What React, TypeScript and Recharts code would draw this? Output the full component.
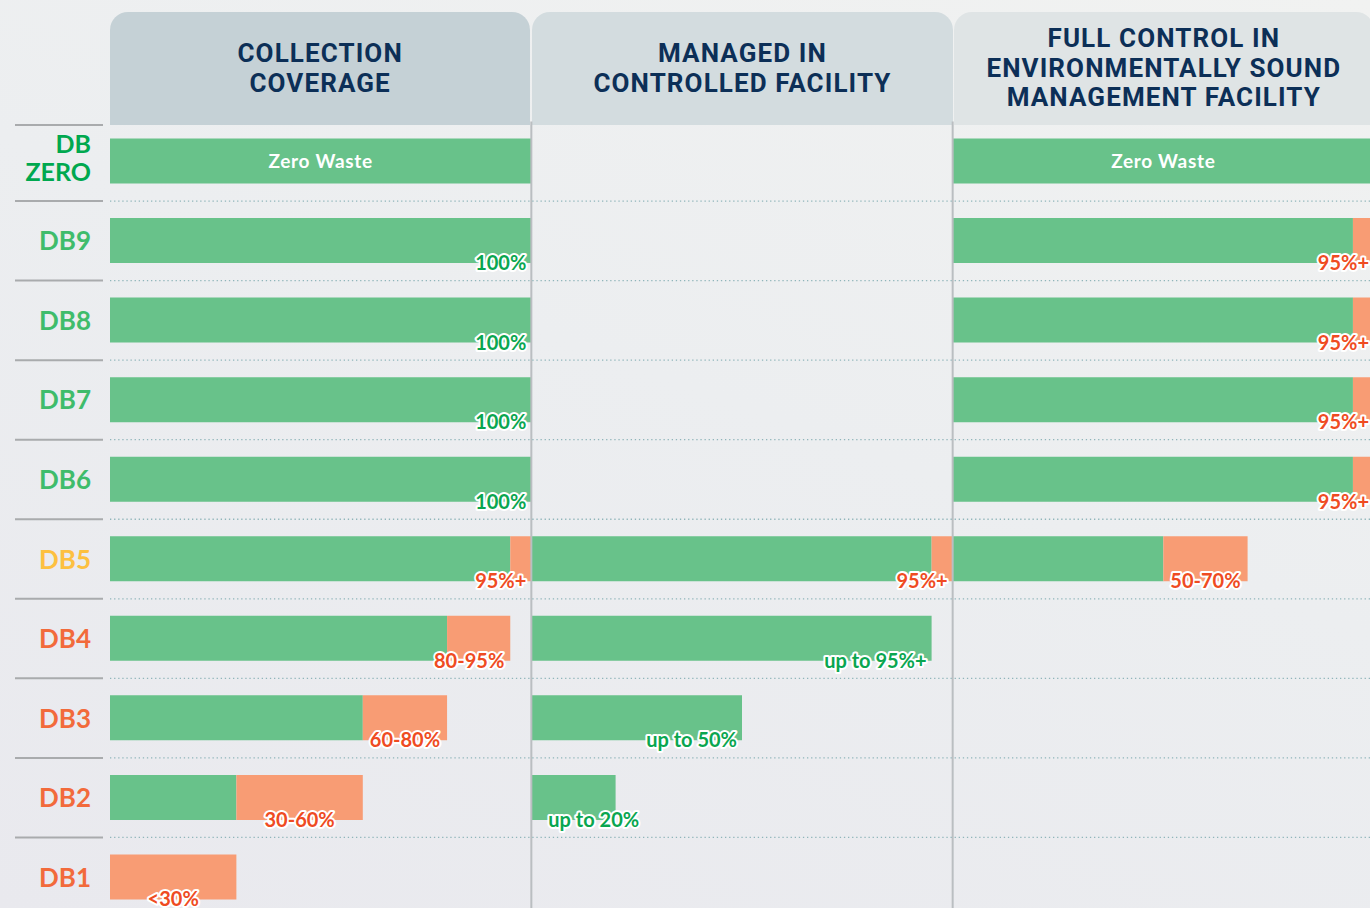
import React from 'react';
import { BarChart, Bar, XAxis, YAxis, ReferenceLine, LabelList } from 'recharts';

// ---------- data ----------
const categories = ['DB ZERO', 'DB9', 'DB8', 'DB7', 'DB6', 'DB5', 'DB4', 'DB3', 'DB2', 'DB1'];

const panelTitles = [
  ['COLLECTION', 'COVERAGE'],
  ['MANAGED IN', 'CONTROLLED FACILITY'],
  ['FULL CONTROL IN', 'ENVIRONMENTALLY SOUND', 'MANAGEMENT FACILITY'],
];

const collectionLow = [100, 100, 100, 100, 100, 95, 80, 60, 30, 0];
const collectionHigh = [100, 100, 100, 100, 100, 100, 95, 80, 60, 30];
const collectionLabels = ['Zero Waste', '100%', '100%', '100%', '100%', '95%+', '80-95%', '60-80%', '30-60%', '<30%'];

const managedLow = [0, 0, 0, 0, 0, 95, 95, 50, 20, 0];
const managedHigh = [0, 0, 0, 0, 0, 100, 95, 50, 20, 0];
const managedLabels = ['', '', '', '', '', '95%+', 'up to 95%+', 'up to 50%', 'up to 20%', ''];

const facilityLow = [100, 95, 95, 95, 95, 50, 0, 0, 0, 0];
const facilityHigh = [100, 100, 100, 100, 100, 70, 0, 0, 0, 0];
const facilityLabels = ['Zero Waste', '95%+', '95%+', '95%+', '95%+', '50-70%', '', '', '', ''];

// ---------- styles / layout ----------
const CHART_W = 1374;
const CHART_H = 917;
const MARGIN_TOP = 121.5;
const Y_AXIS_W = 110;
const PANEL_W = (CHART_W - Y_AXIS_W) / 3;
const BAND = (CHART_H - MARGIN_TOP) / categories.length;

const GREEN = '#68c28a';
const ORANGE = '#f89c74';
const LABEL_GREEN = '#0aa650';
const LABEL_ORANGE = '#ef4b22';
const headerColors = ['#c5d1d6', '#d3dcdf', '#dfe4e5'];
const categoryColors: Record<string, string> = {
  'DB ZERO': '#00a84f',
  DB9: '#3fbc6b',
  DB8: '#3fbc6b',
  DB7: '#3fbc6b',
  DB6: '#3fbc6b',
  DB5: '#fdc040',
  DB4: '#f26a3b',
  DB3: '#f26a3b',
  DB2: '#f26a3b',
  DB1: '#f26a3b',
};

const LABEL_FONT_SIZE = 20;
const LABEL_FONT = `700 ${LABEL_FONT_SIZE}px Lato`;

const panelsData = [
  { low: collectionLow, high: collectionHigh, labels: collectionLabels },
  { low: managedLow, high: managedHigh, labels: managedLabels },
  { low: facilityLow, high: facilityHigh, labels: facilityLabels },
];

const rows = categories.map((cat, i) => {
  const r: any = { cat };
  panelsData.forEach((p, k) => {
    r[`g${k}`] = p.low[i];
    r[`o${k}`] = p.high[i] - p.low[i];
    r[`s${k}`] = 100 - p.high[i];
  });
  return r;
});

let measureCtx: CanvasRenderingContext2D | null = null;
function textWidth(t: string, font: string) {
  if (!measureCtx) measureCtx = document.createElement('canvas').getContext('2d');
  if (!measureCtx) return t.length * 10;
  measureCtx.font = font;
  return measureCtx.measureText(t).width;
}

function makeLabel(panel: number, part: 'g' | 'o') {
  return (props: any) => {
    const vb = props.viewBox && props.viewBox.width != null ? props.viewBox : props;
    const x = Number(vb.x);
    const y = Number(vb.y);
    const w = Number(vb.width);
    const h = Number(vb.height);
    let idx = categories.indexOf(props.value);
    if (idx < 0) idx = Math.floor((y + h / 2 - MARGIN_TOP) / BAND);
    if (idx < 0 || idx >= categories.length) return null;
    const p = panelsData[panel];
    const label = p.labels[idx];
    if (!label) return null;
    const hasOrange = p.high[idx] - p.low[idx] > 0;
    if (part === 'g' && hasOrange) return null;
    if (part === 'o' && !hasOrange) return null;
    const end = x + w;

    if (label === 'Zero Waste') {
      return (
        <text
          x={x + w / 2}
          y={y + h / 2 + 6.5}
          textAnchor="middle"
          fill="#ffffff"
          style={{ font: '700 19px Lato', letterSpacing: 0.7 }}
        >
          {label}
        </text>
      );
    }

    const tw = textWidth(label, LABEL_FONT);
    let anchor: 'start' | 'middle' | 'end' = 'end';
    let tx = end - 5;
    const isRange = label.includes('-') || label.startsWith('<');
    if (isRange && part === 'o') {
      const c = x + w / 2;
      if (c + tw / 2 > end - 6) {
        anchor = 'end';
        tx = end - 6;
      } else {
        anchor = 'middle';
        tx = c;
      }
    } else if (part === 'g' && tx - tw < x + 17) {
      anchor = 'start';
      tx = x + 17;
    }
    return (
      <text
        x={tx}
        y={y + h + 7}
        textAnchor={anchor}
        fill={hasOrange ? LABEL_ORANGE : LABEL_GREEN}
        stroke="#ffffff"
        strokeWidth={4}
        strokeLinejoin="round"
        paintOrder="stroke"
        style={{ font: LABEL_FONT }}
      >
        {label}
      </text>
    );
  };
}

const RowTick = (props: any) => {
  const { y, payload, index } = props;
  const cat: string = payload.value;
  const top = y - BAND / 2;
  const color = categoryColors[cat] || '#333';
  const font = '700 25px Lato';
  return (
    <g>
      <line x1={15} x2={103} y1={index === 0 ? top + 3.5 : top} y2={index === 0 ? top + 3.5 : top} stroke="#a9abad" strokeWidth={2} />
      {index > 0 && (
        <line x1={Y_AXIS_W} x2={CHART_W} y1={top} y2={top} stroke="#8fb5ba" strokeWidth={1.3} strokeDasharray="1.3 2.8" />
      )}
      {cat === 'DB ZERO' ? (
        <text textAnchor="end" fill={color} style={{ font }}>
          <tspan x={91} y={y - 17 + 9}>DB</tspan>
          <tspan x={91} y={y + 11 + 9}>ZERO</tspan>
        </text>
      ) : (
        <text x={91} y={y + 9.5} textAnchor="end" fill={color} style={{ font: '700 26px Lato' }}>
          {cat}
        </text>
      )}
    </g>
  );
};

export default function App() {
  return (
    <div
      style={{
        position: 'fixed',
        left: 0,
        top: 0,
        width: 1370,
        height: 908,
        overflow: 'hidden',
        background: 'linear-gradient(200deg, #f1f2f1 0%, #eceef0 45%, #e9e9ee 100%)',
      }}
    >
      {panelTitles.map((lines, i) => (
        <div
          key={i}
          style={{
            position: 'absolute',
            left: Y_AXIS_W + i * PANEL_W + (i > 0 ? 1 : 0),
            top: 12,
            width: PANEL_W - 1,
            height: 113,
            background: headerColors[i],
            borderRadius: '18px 18px 0 0',
            display: 'flex',
            flexDirection: 'column',
            alignItems: 'center',
            justifyContent: 'center',
            color: '#0c2f57',
            fontFamily: 'Roboto, sans-serif',
            fontWeight: 700,
            fontSize: 26,
            lineHeight: '29.5px',
            letterSpacing: 1.1,
            textAlign: 'center',
            whiteSpace: 'nowrap',
          }}
        >
          {lines.map((t) => (
            <div key={t}>{t}</div>
          ))}
        </div>
      ))}
      <div style={{ position: 'absolute', left: 0, top: 0 }}>
        <BarChart
          layout="vertical"
          width={CHART_W}
          height={CHART_H}
          data={rows}
          margin={{ top: MARGIN_TOP, right: 0, left: 0, bottom: 0 }}
          barSize={45}
        >
          <XAxis type="number" domain={[0, 300]} hide />
          <YAxis
            type="category"
            dataKey="cat"
            width={Y_AXIS_W}
            axisLine={false}
            tickLine={false}
            interval={0}
            tick={<RowTick />}
          />
          <ReferenceLine x={100} stroke="#babec1" strokeWidth={2} />
          <ReferenceLine x={200} stroke="#babec1" strokeWidth={2} />
          {[0, 1, 2].map((k) => [
            <Bar key={`g${k}`} dataKey={`g${k}`} stackId="a" fill={GREEN} isAnimationActive={false}>
              <LabelList dataKey="cat" content={makeLabel(k, 'g')} />
            </Bar>,
            <Bar key={`o${k}`} dataKey={`o${k}`} stackId="a" fill={ORANGE} isAnimationActive={false}>
              <LabelList dataKey="cat" content={makeLabel(k, 'o')} />
            </Bar>,
            <Bar key={`s${k}`} dataKey={`s${k}`} stackId="a" fill="transparent" isAnimationActive={false} />,
          ])}
        </BarChart>
      </div>
    </div>
  );
}
